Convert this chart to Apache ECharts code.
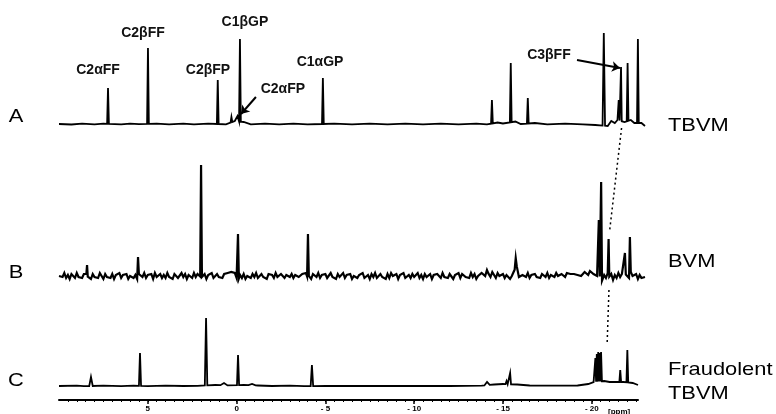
<!DOCTYPE html>
<html>
<head>
<meta charset="utf-8">
<script src="https://cdn.jsdelivr.net/npm/echarts@6/dist/echarts.min.js"></script>
<style>
  html, body { margin: 0; padding: 0; background: #fff; }
  #chart { width: 776px; height: 414px; }
</style>
</head>
<body>
<div id="chart"></div>
<script>
// ---- chemical shift axis (ppm) ----
const ppmTicks = [5, 0, -5, -10, -15, -20];

// ---- spectrum A: TBVM reference ----
// peaks: [ppm, intensity, half width in ppm]
const peaksA = [
  [7.24, 36, 0.05], [4.99, 76, 0.05], [1.06, 44, 0.05], [0.29, 7, 0.05],
  [-0.05, 8, 0.1], [-0.19, 85, 0.05], [-4.86, 46, 0.05],
  [-14.38, 24, 0.05], [-15.44, 61, 0.05], [-16.4, 26, 0.05],
  [-20.68, 91, 0.07], [-21.52, 24, 0.05], [-21.65, 57, 0.04],
  [-22.02, 61, 0.05], [-22.6, 85, 0.05]
];
// baseline: [ppm, intensity]
const baselineA = [
  [10, 0], [9.3, -0.5], [8.7, 0.4], [8, -0.3], [7.5, 0.3], [6.5, -0.3], [6, 0.4],
  [5.5, -0.2], [4.5, 0.3], [3.8, -0.4], [3, 0.3], [2.4, -0.3], [1.6, 0.4],
  [0.6, -0.3], [0.1, 3], [-0.4, 2], [-0.8, -0.4], [-1.6, 0.4], [-2.4, -0.3],
  [-3.2, 0.3], [-4, -0.4], [-5.5, 0.3], [-6.5, -0.3], [-7.5, 0.4], [-8.5, -0.3],
  [-9.5, 0.3], [-10.5, -0.4], [-11.5, 0.3], [-12.5, -0.3], [-13.5, 0.4],
  [-14.1, -0.4], [-14.7, 1.5], [-15, 0.5], [-15.7, 2.5], [-16, 0], [-16.8, 1],
  [-17.5, -0.3], [-18.5, 0.4], [-19.5, -0.3], [-20.2, -1], [-20.9, -2],
  [-21.1, 3], [-21.3, 1], [-21.45, 4], [-21.85, 2], [-22.2, 4], [-22.4, 1],
  [-22.8, 1], [-23, -2]
];

// ---- spectrum B: BVM ----
const peaksB = [
  [8.42, 11, 0.04], [5.55, 19, 0.05], [2.0, 111, 0.05], [-0.08, 42, 0.05],
  [-4.02, 42, 0.05], [-14.1, 6, 0.08], [-15.72, 18, 0.06],
  [-20.4, 56, 0.05], [-20.53, 94, 0.05], [-20.95, 37, 0.04],
  [-21.87, 23, 0.05], [-22.15, 39, 0.05]
];
// noisy baseline sampled every 0.1 ppm from 10 ppm down to -23 ppm
const noiseStartB = 10;
const noiseStepB = 0.1;
const noiseB = [
  0, 2, -1, 3, -2, 1, -3, 2, 0, -2,
  3, -1, 1, -2, 2, 4, -1, 1, -3, 2,
  -1, 1, -2, 3, 0, -3, 2, -1, 1, -2,
  2, -3, 1, 0, 3, -2, 1, -1, 2, -3,
  0, 2, -2, 1, -3, 2, 0, -1, 3, -2,
  1, -1, 2, -3, 3, -1, 0, 2, -2, 1,
  -2, 3, -1, 1, -3, 2, 1, -2, 0, 3,
  -1, 2, -3, 1, 0, -2, 3, -1, 2, 1,
  -2, 0, 2, -3, 1, -1, 3, -2, 0, 2,
  -1, 1, -2, 2, 0, 3, 1, 4, 2, 3,
  -2, -4, 1, -2, 2, -3, 0, 1, -2, 2,
  -1, 3, -2, 0, 2, -1, 1, -3, 2, 0,
  1, -2, 3, -1, -3, 2, 0, -2, 1, 3,
  -1, 2, -2, 1, 3, -1, 0, 2, 1, 3,
  -2, 1, -3, 2, 0, -1, 3, -2, 1, -1,
  2, -2, 0, 3, -1, 1, -3, 2, -1, 0,
  3, -2, 1, -1, 2, -3, 0, 2, -2, 1,
  -1, 3, -2, 0, 1, -3, 2, -1, 3, -2,
  0, 2, -1, 1, -3, 2, -2, 3, 0, -1,
  2, -3, 1, -1, 3, -2, 0, 1, -2, 2,
  -1, 0, 3, -2, 1, -3, 2, -1, 0, 2,
  -3, 1, -1, 2, 0, -2, 3, -1, 1, -2,
  2, 0, -3, 1, -1, 3, -2, 2, 0, -1,
  1, -2, 3, -1, 2, -3, 0, 1, 3, 2,
  0, 5, 2, -1, 4, 1, -2, 3, 0, -1,
  2, -2, 1, 3, -3, 0, 4, 8, 10, -1,
  -2, 1, 2, -1, 3, -2, 1, 0, 2, -1,
  1, -2, 2, 0, -1, 3, -2, 1, 2, -1,
  3, 0, -2, 2, 1, -1, 3, 1, 2, 0,
  2, 4, 1, 3, 0, 2, 4, 3, 1, 5,
  3, 2, 4, 0, 2, -3, -5, 1, -2, 3,
  -1, 2, -4, 1, -2, 3, -1, 2, 0, 1,
  3, -2, 4, 0, -1, 2, -3, 1, -2, 0,
  -1
];

// ---- spectrum C: fraudulent TBVM ----
const peaksC = [
  [8.2, 9, 0.1], [5.44, 33, 0.06], [1.72, 68, 0.07], [0.71, 3, 0.2],
  [-0.08, 31, 0.06], [-0.87, 2, 0.2], [-4.24, 21, 0.07],
  [-14.1, 4, 0.15], [-15.2, 5, 0.06], [-15.4, 13, 0.05],
  [-20.2, 28, 0.04], [-20.28, 32, 0.04], [-20.36, 34, 0.04],
  [-20.44, 33, 0.04], [-20.52, 34, 0.05],
  [-21.6, 16, 0.05], [-22.0, 36, 0.05]
];
const baselineC = [
  [10, 0], [9, 0.3], [8.6, -0.2], [7.5, 0.3], [6.5, -0.2], [5.8, 0.3], [5, -0.2],
  [4, 0.3], [3, 0], [2.2, 0.2], [1.2, 1], [0.4, 0.5], [-0.4, 1], [-1.2, 0.5],
  [-2, 0], [-3, 0.3], [-3.8, -0.2], [-5, 0.2], [-6, 0], [-8, 0], [-10, 0],
  [-12, 0], [-13.8, 0.3], [-14.5, 1.5], [-15, 2], [-15.8, 1.5], [-16.5, 0.5],
  [-18, 0.3], [-19.2, 0.5], [-19.8, 2], [-20.1, 4], [-20.7, 5], [-21, 4],
  [-21.4, 4], [-21.8, 4], [-22.3, 3], [-22.6, 1]
];

// ---- peak assignments on spectrum A: [text, ppm, intensity] ----
const labelsA = [
  ['C2αFF', 7.80, 54], ['C2βFF', 5.27, 91], ['C2βFP', 1.61, 54],
  ['C1βGP', -0.47, 102], ['C2αFP', -2.61, 35], ['C1αGP', -4.70, 62],
  ['C3βFF', -17.59, 69]
];
// arrows: [fromPpm, fromInt, toPpm, toInt]
const arrowsA = [
  [-1.09, 27, -0.25, 10],
  [-19.17, 64, -21.59, 56]
];
// dotted guide tracking the C3βFF shift: [gridIndex, ppm, intensity] pairs
const guideAB = [[0, -21.68, -4], [1, -21.0, 44]];
const guideBC = [[1, -20.97, -14], [2, -20.86, 41]];

const spectrumNames = ['A', 'B', 'C'];
const sampleNames = [['TBVM'], ['BVM'], ['Fraudolent', 'TBVM']];

// Join a baseline and a list of peaks into one trace ordered by decreasing ppm
function buildTrace(baseline, peaks) {
  const baseAt = ppm => {
    for (let i = 0; i < baseline.length - 1; i++) {
      const [x0, y0] = baseline[i], [x1, y1] = baseline[i + 1];
      if (ppm <= x0 && ppm >= x1) return y0 + (y1 - y0) * (x0 - ppm) / (x0 - x1);
    }
    return 0;
  };
  const pts = baseline.filter(([x]) => !peaks.some(([p, , w]) => Math.abs(x - p) <= w));
  peaks.forEach(([p, h, w]) => {
    pts.push([p + w, baseAt(p + w)], [p, h], [p - w, baseAt(p - w)]);
  });
  pts.sort((a, b) => b[0] - a[0]);
  return pts;
}

const baselineB = noiseB.map((v, i) => [+(noiseStartB - i * noiseStepB).toFixed(2), v]);
const traceA = buildTrace(baselineA, peaksA);
const traceB = buildTrace(baselineB, peaksB);
const traceC = buildTrace(baselineC, peaksC);

const minorTicks = [];
for (let v = -22.5; v <= 9.5; v += 0.5) minorTicks.push(+v.toFixed(1));

const INK = '#000';
const labelFont = "'Liberation Sans', Arial, sans-serif";

const chart = echarts.init(document.getElementById('chart'), null, { renderer: 'canvas' });

const hiddenX = (grid, min) => ({
  type: 'value', gridIndex: grid, min: min, max: 10, inverse: true, show: false
});
const hiddenY = (grid, min, max) => ({
  type: 'value', gridIndex: grid, min: min, max: max, show: false
});
const traceSeries = (idx, data, extra) => Object.assign({
  type: 'line', xAxisIndex: idx, yAxisIndex: idx, data: data,
  showSymbol: false, symbol: 'none', clip: false, silent: true,
  lineStyle: { color: INK, width: 1.8, join: 'miter' }
}, extra || {});

chart.setOption({
  animation: false,
  backgroundColor: '#fff',
  grid: [
    { left: 59, right: 131, top: 14, height: 116 },
    { left: 59, right: 131, top: 160, height: 120 },
    { left: 59, right: 138, top: 300, height: 90 }
  ],
  xAxis: [
    hiddenX(0, -23),
    hiddenX(1, -23),
    {
      type: 'value', gridIndex: 2, min: -22.6, max: 10, inverse: true,
      position: 'bottom', offset: 10,
      axisLine: { show: true, onZero: false, lineStyle: { color: INK, width: 2 } },
      axisTick: { show: true, customValues: minorTicks, length: 2, lineStyle: { color: INK, width: 1 } },
      axisLabel: { show: false },
      splitLine: { show: false }
    },
    {
      type: 'value', gridIndex: 2, min: -22.6, max: 10, inverse: true,
      position: 'bottom', offset: 10,
      axisLine: { show: false, onZero: false },
      axisTick: { show: true, customValues: ppmTicks, length: 4, lineStyle: { color: INK, width: 1.5 } },
      axisLabel: {
        show: true, customValues: ppmTicks, margin: 5,
        formatter: v => (v < 0 ? '- ' + (-v) : String(v)),
        fontSize: 8, fontWeight: 'bold', color: INK, fontFamily: labelFont
      },
      splitLine: { show: false }
    }
  ],
  yAxis: [
    hiddenY(0, -6, 110),
    hiddenY(1, -4, 116),
    hiddenY(2, -4, 86)
  ],
  series: [
    traceSeries(0, traceA, {
      markPoint: {
        symbol: 'circle', symbolSize: 1, silent: true,
        itemStyle: { color: 'rgba(0,0,0,0)' },
        label: {
          show: true, position: 'inside', formatter: '{b}',
          color: '#111', fontSize: 14, fontWeight: 'bold', fontFamily: labelFont
        },
        data: labelsA.map(([t, p, v]) => ({ name: t, coord: [p, v] }))
      },
      markLine: {
        silent: true, symbol: ['none', 'arrow'], symbolSize: 8,
        lineStyle: { color: INK, width: 2, type: 'solid' },
        label: { show: false },
        data: arrowsA.map(([x0, y0, x1, y1]) => [{ coord: [x0, y0] }, { coord: [x1, y1] }])
      }
    }),
    traceSeries(1, traceB, { lineStyle: { color: INK, width: 2.2, join: 'miter' } }),
    traceSeries(2, traceC)
  ]
});

// Pixel positions of the dotted guides come from the axes of each panel
function toPx([grid, ppm, val]) {
  return chart.convertToPixel({ gridIndex: grid }, [ppm, val]);
}
const guides = [guideAB, guideBC].map(seg => ({
  type: 'polyline', silent: true,
  shape: { points: seg.map(toPx) },
  style: { stroke: INK, lineWidth: 1.5, lineDash: [2, 3], fill: null }
}));

const textItem = (text, x, y, align) => ({
  type: 'text', silent: true, x: x, y: y, scaleX: 1.15, originX: 0, originY: 0,
  style: {
    text: text, fill: INK, font: "19px 'Liberation Sans', Arial, sans-serif",
    align: align || 'left', verticalAlign: 'middle'
  }
});

const letterY = [117, 273, 381];
const nameY = [[126], [262], [370, 394]];
const texts = [];
spectrumNames.forEach((s, i) => texts.push(textItem(s, 16, letterY[i], 'center')));
sampleNames.forEach((lines, i) => lines.forEach((t, j) => texts.push(textItem(t, 668, nameY[i][j]))));
texts.push({
  type: 'text', silent: true, x: 608, y: 412,
  style: { text: '[ppm]', fill: INK, font: "bold 8px 'Liberation Sans', Arial, sans-serif", verticalAlign: 'middle' }
});

chart.setOption({ graphic: guides.concat(texts) });
</script>
</body>
</html>
